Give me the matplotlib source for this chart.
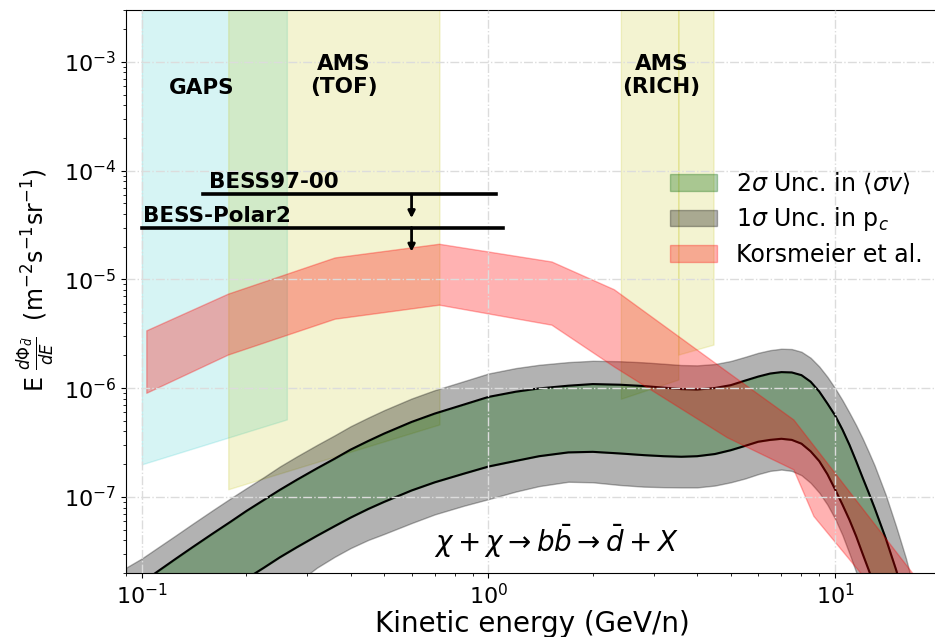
import numpy as np
import matplotlib
matplotlib.use("Agg")
import matplotlib.pyplot as plt

# ---------------- data ----------------
# model curves: kinetic energy grid (GeV/n) and log10 of E*dPhi/dE
E_model = [0.09, 0.1, 0.11, 0.125, 0.14, 0.16, 0.18, 0.2, 0.225, 0.25, 0.28, 0.32, 0.36, 0.4,
           0.45, 0.5, 0.6, 0.7, 0.85, 1.0, 1.2, 1.4, 1.7, 2.0, 2.4, 2.8, 3.2, 3.6, 4.0, 4.5,
           5.0, 5.5, 6.0, 6.5, 7.0, 7.5, 8.0, 8.5, 9.0, 9.5, 10.0, 10.5, 11.0, 11.5, 12.0,
           12.5, 13.0, 14.0, 15.0, 16.0, 17.0]
# 2 sigma <sigma v> band (upper / lower black curves)
sv_hi_log = [-7.896, -7.789, -7.694, -7.570, -7.462, -7.337, -7.229, -7.130, -7.027, -6.935,
             -6.842, -6.737, -6.648, -6.565, -6.485, -6.417, -6.310, -6.233, -6.150, -6.080,
             -6.032, -6.002, -5.977, -5.962, -5.968, -5.980, -5.995, -6.008, -6.012, -5.998,
             -5.972, -5.930, -5.893, -5.865, -5.852, -5.855, -5.880, -5.940, -6.030, -6.140,
             -6.250, -6.380, -6.520, -6.670, -6.820, -6.960, -7.100, -7.380, -7.670, -7.970,
             -8.280]
sv_lo_log = [-8.520, -8.410, -8.315, -8.190, -8.080, -7.955, -7.848, -7.753, -7.650, -7.555,
             -7.462, -7.357, -7.268, -7.190, -7.110, -7.045, -6.940, -6.865, -6.785, -6.720,
             -6.668, -6.625, -6.590, -6.585, -6.600, -6.615, -6.625, -6.630, -6.625, -6.605,
             -6.570, -6.530, -6.492, -6.475, -6.465, -6.475, -6.510, -6.580, -6.670, -6.790,
             -6.930, -7.070, -7.210, -7.360, -7.520, -7.670, -7.820, -8.120, -8.420, -8.720,
             -9.020]
# 1 sigma p_c band (grey)
pc_hi_log = [-7.650, -7.565, -7.475, -7.355, -7.247, -7.122, -7.014, -6.920, -6.817, -6.720,
             -6.627, -6.522, -6.433, -6.350, -6.270, -6.202, -6.095, -6.018, -5.935, -5.865,
             -5.815, -5.785, -5.760, -5.748, -5.752, -5.762, -5.775, -5.787, -5.790, -5.778,
             -5.750, -5.712, -5.675, -5.650, -5.637, -5.640, -5.665, -5.720, -5.800, -5.895,
             -6.000, -6.110, -6.225, -6.340, -6.460, -6.585, -6.710, -6.980, -7.270, -7.560,
             -7.880]
pc_lo_log = [-9.000, -8.880, -8.780, -8.640, -8.520, -8.380, -8.260, -8.150, -8.030, -7.920,
             -7.790, -7.650, -7.550, -7.470, -7.395, -7.340, -7.240, -7.160, -7.080, -7.020,
             -6.950, -6.900, -6.860, -6.865, -6.890, -6.905, -6.910, -6.912, -6.912, -6.895,
             -6.865, -6.830, -6.790, -6.760, -6.748, -6.760, -6.800, -6.870, -6.960, -7.070,
             -7.200, -7.350, -7.520, -7.690, -7.860, -8.020, -8.180, -8.500, -8.800, -9.100,
             -9.400]

# Korsmeier et al. band
E_kors = [0.103, 0.177, 0.36, 0.72, 1.52, 2.3, 4.87, 7.58, 8.66, 13.0, 20.0]
kors_hi_log = [-5.468, -5.131, -4.798, -4.672, -4.835, -5.09, -5.845, -6.287, -6.525, -7.25, -8.02]
kors_lo_log = [-6.042, -5.691, -5.361, -5.232, -5.416, -5.80, -6.45, -6.746, -7.174, -7.855, -8.58]

# experiment sensitivity regions (energy range, log10 lower bound)
E_gaps = [0.1, 0.262]
gaps_lo_log = [-6.70, -6.287]
E_tof = [0.1775, 0.722]
tof_lo_log = [-6.929, -6.333]
E_rich1 = [2.41, 3.53]
rich1_lo_log = [-6.097, -5.92]
E_rich2 = [3.53, 4.46]
rich2_lo_log = [-5.691, -5.599]
band_top = 1e-2

# BESS upper limits
bess97_E = [0.15, 1.05]
bess97_flux = 6.07e-5
bess97_tip = 3.66e-5
polar2_E = [0.1, 1.1]
polar2_flux = 3.0e-5
polar2_tip = 1.8e-5
arrow_E = 0.6


def lin(v):
    return 10.0 ** np.asarray(v, dtype=float)


# ---------------- figure ----------------
fig = plt.figure(figsize=(9.35, 6.37), dpi=100)
ax = fig.add_axes([126 / 935, 64 / 637, (939.4 - 126) / 935, 563 / 637])
ax.set_xscale("log")
ax.set_yscale("log")

# experiment regions
ax.fill_between(E_gaps, lin(gaps_lo_log), band_top, color="c", alpha=0.16, zorder=0.6)
ax.fill_between(E_tof, lin(tof_lo_log), band_top, color="y", alpha=0.18, zorder=0.6)
ax.fill_between(E_rich1, lin(rich1_lo_log), band_top, color="y", alpha=0.18, zorder=0.6)
ax.fill_between(E_rich2, lin(rich2_lo_log), band_top, color="y", alpha=0.18, zorder=0.6)

# model bands
h_pc = ax.fill_between(E_model, lin(pc_lo_log), lin(pc_hi_log), color="k", alpha=0.3, zorder=1)
h_sv = ax.fill_between(E_model, lin(sv_lo_log), lin(sv_hi_log), color="darkgreen", alpha=0.3,
                       zorder=1.1)
ax.plot(E_model, lin(sv_hi_log), color="k", lw=1.5, zorder=2)
ax.plot(E_model, lin(sv_lo_log), color="k", lw=1.5, zorder=2)
h_k = ax.fill_between(E_kors, lin(kors_lo_log), lin(kors_hi_log), color="red", alpha=0.3,
                      zorder=2.2)

# BESS limits
ax.plot(bess97_E, [bess97_flux] * 2, color="k", lw=2.6, zorder=3)
ax.plot(polar2_E, [polar2_flux] * 2, color="k", lw=2.6, zorder=3)
for f0, f1 in [(bess97_flux, bess97_tip), (polar2_flux, polar2_tip)]:
    ax.annotate("", xy=(arrow_E, f1), xytext=(arrow_E, f0),
                arrowprops=dict(arrowstyle="-|>", color="k", lw=2, mutation_scale=10,
                                shrinkA=0, shrinkB=0), zorder=3)
ax.text(0.1567, 6.9e-5, "BESS97-00", fontsize=15.5, fontweight="bold", ha="left", va="baseline")
ax.text(0.1009, 3.4e-5, "BESS-Polar2", fontsize=15.5, fontweight="bold", ha="left", va="baseline")

# region labels
ax.text(0.149, 5.8e-4, "GAPS", fontsize=15.5, fontweight="bold", ha="center", va="center")
ax.text(0.382, 7.55e-4, "AMS\n(TOF)", fontsize=15.5, fontweight="bold", ha="center", va="center")
ax.text(3.16, 7.55e-4, "AMS\n(RICH)", fontsize=15.5, fontweight="bold", ha="center", va="center")

ax.text(1.575, 3.1e-8, r"$\chi + \chi \rightarrow b\bar{b} \rightarrow \bar{d} + X$",
        fontsize=20, ha="center", va="baseline")

ax.set_xlim(0.09, 20)
ax.set_ylim(2e-8, 3e-3)
ax.set_axisbelow(False)
ax.grid(True, which="major", ls="-.", color="#dcdcdc", lw=1)
ax.tick_params(which="major", labelsize=16)

ax.set_xlabel("Kinetic energy (GeV/n)", fontsize=20, labelpad=1.5)
ax.set_ylabel(r"E $\frac{d\Phi_{\bar{d}}}{dE}$  (m$^{-2}$s$^{-1}$sr$^{-1}$)", fontsize=17)
ax.yaxis.set_label_coords(-0.0848, 0.5204)

leg = ax.legend([h_sv, h_pc, h_k],
                [r"2$\sigma$ Unc. in $\langle\sigma v\rangle$", r"1$\sigma$ Unc. in p$_c$",
                 "Korsmeier et al."],
                fontsize=17, frameon=False, loc="center left", labelspacing=0.39,
                bbox_to_anchor=(660.6 / 935, (637 - 218.7) / 637),
                bbox_transform=fig.transFigure, borderaxespad=0)
leg.set_zorder(5)

fig.savefig("out.png", dpi=100)
